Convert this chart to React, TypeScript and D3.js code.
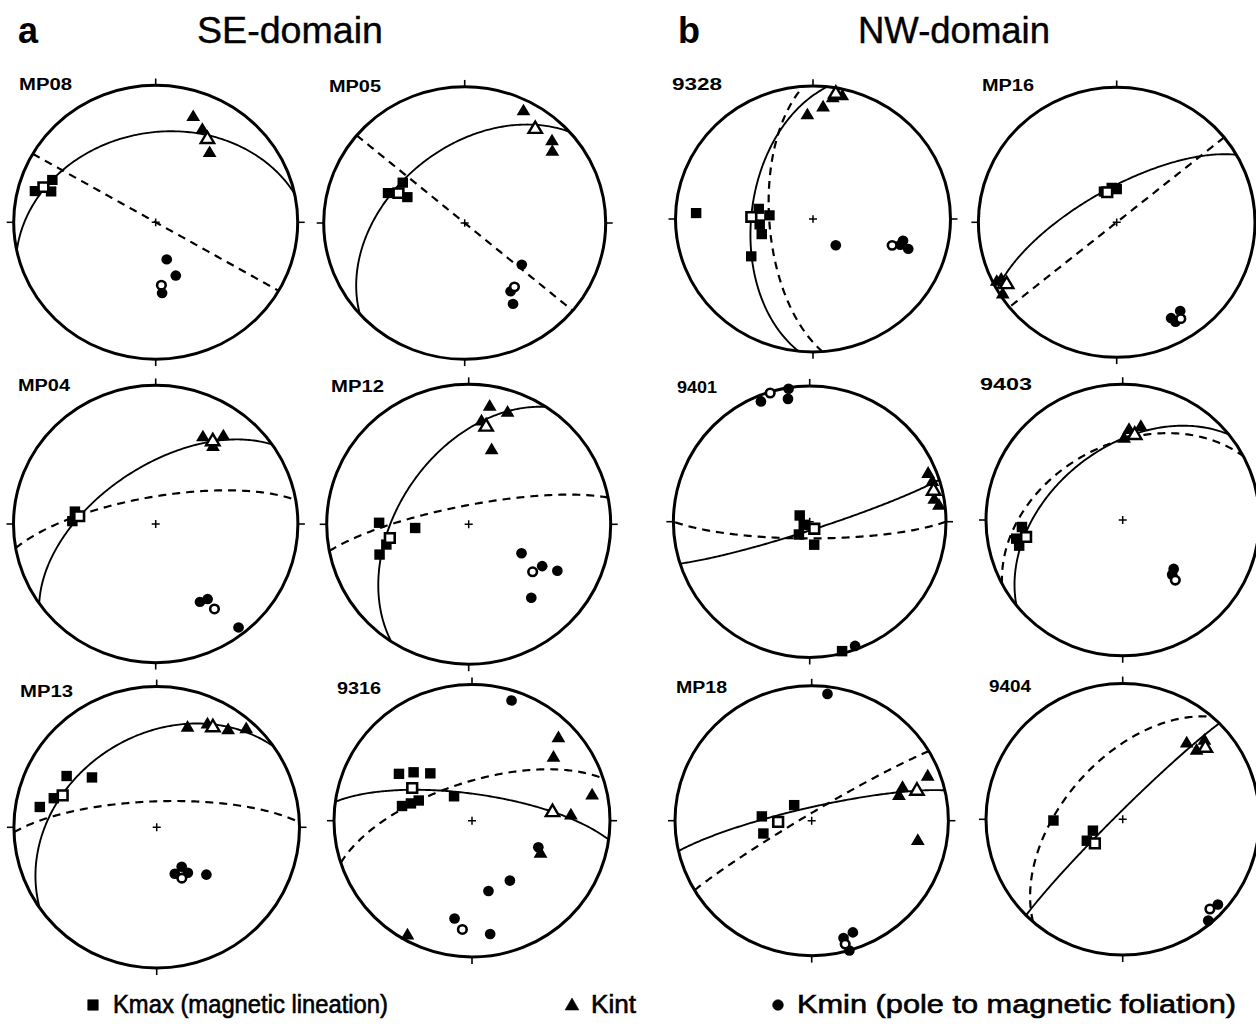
import { useMemo } from "react";
import * as d3 from "d3";

// lines are [trend, plunge], planes are [dip direction, dip], all in degrees,
// lower-hemisphere equal-area projection
type Line = [number, number];
type Plane = [number, number];

// ---- SE-domain ----
const MP08_KMAX: Line[] = [[285, 13], [293, 22], [287, 24]];
const MP08_KINT: Line[] = [[19, 20], [26, 26], [37, 37]];
const MP08_KMIN: Line[] = [[164, 67], [160, 56], [175, 47]];
const MP08_MEAN: Line[] = [[288, 18], [31, 30], [175, 52]]; // mean kmax, kint, kmin
const MP08_PLANES: Plane[] = [[348, 35], [30, 90]]; // solid, dashed

const MP05_KMAX: Line[] = [[292, 41], [304, 46], [295, 53]];
const MP05_KINT: Line[] = [[27, 9], [46, 15], [50, 20]];
const MP05_KMIN: Line[] = [[127, 48], [147, 40], [150, 32]];
const MP05_MEAN: Line[] = [[295, 47], [36, 16], [143, 41]];
const MP05_PLANES: Plane[] = [[318, 46], [40, 90]];

const MP04_KMAX: Line[] = [[279, 42], [272, 41]];
const MP04_KINT: Line[] = [[28, 30], [37, 22], [36, 32]];
const MP04_KMIN: Line[] = [[151, 36], [146, 35], [142, 6]];
const MP04_MEAN: Line[] = [[276, 45], [34, 29], [146, 27]];
const MP04_PLANES: Plane[] = [[325, 57], [350, 74]];

const MP12_KMAX: Line[] = [[271, 37], [266, 59], [251, 34], [256, 40]];
const MP12_KINT: Line[] = [[10, 16], [7, 27], [19, 17], [17, 44]];
const MP12_KMIN: Line[] = [[119, 55], [120, 40], [118, 30], [140, 32]];
const MP12_MEAN: Line[] = [[260, 43], [10, 30], [127, 43]];
const MP12_PLANES: Plane[] = [[303, 49], [349, 79]];

const MP13_KMAX: Line[] = [[280, 18], [300, 28], [308, 42], [286, 26]];
const MP13_KINT: Line[] = [[17, 27], [26, 20], [36, 16], [42, 7]];
const MP13_KMIN: Line[] = [[148, 63], [159, 61], [146, 58], [134, 50]];
const MP13_MEAN: Line[] = [[289, 31], [29, 20], [154, 57]];
const MP13_PLANES: Plane[] = [[325, 36], [358, 75]];

const S9316_KMAX: Line[] = [[303, 37], [310, 44], [319, 52], [324, 72], [282, 47], [286, 52], [291, 56]];
const S9316_KINT: Line[] = [[46, 14], [52, 26], [78, 12], [87, 29], [116, 44], [209, 4]];
const S9316_KMIN: Line[] = [[18, 8], [112, 47], [148, 47], [167, 46], [190, 28], [171, 17]];
const S9316_MEAN: Line[] = [[299, 49], [84, 41], [185, 21]];
const S9316_PLANES: Plane[] = [[8, 74], [342, 67]];

// ---- NW-domain ----
const S9328_KMAX: Line[] = [[273, 16], [281, 57], [275, 64], [264, 58], [253, 58], [238, 46]];
const S9328_KINT: Line[] = [[357, 23], [5, 17], [13, 6], [9, 9]];
const S9328_KMIN: Line[] = [[140, 69], [107, 34], [108, 28], [104, 33]];
const S9328_MEAN: Line[] = [[272, 53], [10, 5], [109, 39]];
const S9328_PLANES: Plane[] = [[276, 53], [266, 64]];

const MP16_KMAX: Line[] = [[338, 70], [0, 70], [352, 69]];
const MP16_KINT: Line[] = [[243, 3], [243, 7], [237, 2]];
const MP16_KMIN: Line[] = [[151, 20], [145, 21], [150, 16]];
const MP16_MEAN: Line[] = [[343, 71], [240, 9], [147, 16]];
const MP16_PLANES: Plane[] = [[330, 70], [141, 90]];

const S9401_KMAX: Line[] = [[302, 83], [242, 86], [220, 80], [169, 76], [166, 2]];
const S9401_KINT: Line[] = [[68, 7], [72, 6], [80, 8], [83, 5]];
const S9401_KMIN: Line[] = [[338, 5], [350, 9], [351, 1], [160, 3]];
const S9401_MEAN: Line[] = [[147, 85], [76, 7], [343, 1]];
const S9401_PLANES: Plane[] = [[162, 85], [180, 80]];

const S9403_KMAX: Line[] = [[256, 23], [266, 27], [260, 22]];
const S9403_KINT: Line[] = [[4, 34], [11, 31], [1, 40]];
const S9403_KMIN: Line[] = [[134, 47], [138, 45]];
const S9403_MEAN: Line[] = [[260, 29], [8, 37], [139, 41]];
const S9403_PLANES: Plane[] = [[321, 47], [332, 44]];

const MP18_KMAX: Line[] = [[275, 60], [255, 60], [312, 76]];
const MP18_KINT: Line[] = [[70, 30], [74, 34], [69, 10], [101, 22]];
const MP18_KMIN: Line[] = [[7, 6], [165, 11], [160, 13], [164, 0]];
const MP18_MEAN: Line[] = [[268, 70], [74, 21], [165, 6]];
const MP18_PLANES: Plane[] = [[347, 82], [329, 86]];

const S9404_KMAX: Line[] = [[269, 48], [249, 71], [239, 65]];
const S9404_KINT: Line[] = [[40, 28], [46, 18], [47, 27]];
const S9404_KMIN: Line[] = [[132, 7], [140, 3]];
const S9404_MEAN: Line[] = [[229, 68], [49, 21], [136, 9]];
const S9404_PLANES: Plane[] = [[315, 86], [311, 55]];

const PANEL_TAGS = ["a", "b"];
const DOMAINS = ["SE-domain", "NW-domain"];
const LEGEND_LABELS = ["Kmax (magnetic lineation)", "Kint", "Kmin (pole to magnetic foliation)"];

const NETS = [
  { label: "MP08", kmax: MP08_KMAX, kint: MP08_KINT, kmin: MP08_KMIN, mean: MP08_MEAN, planes: MP08_PLANES },
  { label: "MP05", kmax: MP05_KMAX, kint: MP05_KINT, kmin: MP05_KMIN, mean: MP05_MEAN, planes: MP05_PLANES },
  { label: "9328", kmax: S9328_KMAX, kint: S9328_KINT, kmin: S9328_KMIN, mean: S9328_MEAN, planes: S9328_PLANES },
  { label: "MP16", kmax: MP16_KMAX, kint: MP16_KINT, kmin: MP16_KMIN, mean: MP16_MEAN, planes: MP16_PLANES },
  { label: "MP04", kmax: MP04_KMAX, kint: MP04_KINT, kmin: MP04_KMIN, mean: MP04_MEAN, planes: MP04_PLANES },
  { label: "MP12", kmax: MP12_KMAX, kint: MP12_KINT, kmin: MP12_KMIN, mean: MP12_MEAN, planes: MP12_PLANES },
  { label: "9401", kmax: S9401_KMAX, kint: S9401_KINT, kmin: S9401_KMIN, mean: S9401_MEAN, planes: S9401_PLANES },
  { label: "9403", kmax: S9403_KMAX, kint: S9403_KINT, kmin: S9403_KMIN, mean: S9403_MEAN, planes: S9403_PLANES },
  { label: "MP13", kmax: MP13_KMAX, kint: MP13_KINT, kmin: MP13_KMIN, mean: MP13_MEAN, planes: MP13_PLANES },
  { label: "9316", kmax: S9316_KMAX, kint: S9316_KINT, kmin: S9316_KMIN, mean: S9316_MEAN, planes: S9316_PLANES },
  { label: "MP18", kmax: MP18_KMAX, kint: MP18_KINT, kmin: MP18_KMIN, mean: MP18_MEAN, planes: MP18_PLANES },
  { label: "9404", kmax: S9404_KMAX, kint: S9404_KINT, kmin: S9404_KMIN, mean: S9404_MEAN, planes: S9404_PLANES },
];

// where each net sits on the page (the scan is a little squashed vertically)
const LAYOUT = [
  { cx: 155.7, cy: 222.3, rx: 142, ry: 137, lx: 19, ly: 90, lw: 53 },
  { cx: 464.7, cy: 223, rx: 141, ry: 136.3, lx: 329, ly: 92, lw: 52 },
  { cx: 813, cy: 219, rx: 137.5, ry: 133, lx: 672, ly: 90, lw: 50 },
  { cx: 1116.7, cy: 222.3, rx: 138.3, ry: 135, lx: 982, ly: 91, lw: 52 },
  { cx: 155.7, cy: 524, rx: 142.2, ry: 138.7, lx: 18, ly: 391, lw: 52 },
  { cx: 468.7, cy: 524.3, rx: 142, ry: 140, lx: 331, ly: 392, lw: 53 },
  { cx: 809.7, cy: 521.7, rx: 136.3, ry: 135.8, lx: 677, ly: 393, lw: 40 },
  { cx: 1122.7, cy: 520, rx: 136.7, ry: 135.8, lx: 980, ly: 390, lw: 52 },
  { cx: 156.7, cy: 827.3, rx: 142.8, ry: 140.8, lx: 20, ly: 697, lw: 53 },
  { cx: 472, cy: 820.7, rx: 138, ry: 136.3, lx: 337, ly: 694, lw: 44 },
  { cx: 811.7, cy: 820.7, rx: 136.7, ry: 135, lx: 676, ly: 693, lw: 51 },
  { cx: 1122.7, cy: 819.3, rx: 136.7, ry: 135.8, lx: 989, ly: 692, lw: 42 },
];

const FONT = "'Liberation Sans', Arial, Helvetica, sans-serif";

const squareFilled = d3.symbol().type(d3.symbolSquare).size(110)() ?? "";
const squareOpen = d3.symbol().type(d3.symbolSquare).size(95)() ?? "";
const triFilled = d3.symbol().type(d3.symbolTriangle).size(82)() ?? "";
const triOpen = d3.symbol().type(d3.symbolTriangle).size(78)() ?? "";
const dotFilled = d3.symbol().type(d3.symbolCircle).size(90)() ?? "";
const dotOpen = d3.symbol().type(d3.symbolCircle).size(58)() ?? "";

function Stereonet({ net, lay }: { net: (typeof NETS)[number]; lay: (typeof LAYOUT)[number] }) {
  const { rx, ry } = lay;
  const { project, solid, dashed } = useMemo(() => {
    const proj = d3
      .geoAzimuthalEqualArea()
      .rotate([0, -90])
      .scale(rx / Math.SQRT2)
      .translate([0, 0])
      .clipAngle(90)
      .precision(0.1);
    const path = d3.geoPath(proj);
    const project = ([t, p]: Line) => proj([180 - t, p]) ?? [0, 0];
    const gc = ([dd, dip]: Plane) => {
      const ring = d3.geoCircle().center([-dd, 90 - dip]).radius(90).precision(1)().coordinates[0];
      return path({ type: "LineString", coordinates: ring } as any) ?? "";
    };
    return { project, solid: gc(net.planes[0]), dashed: gc(net.planes[1]) };
  }, [net, rx]);

  const at = (l: Line) => {
    const [x, y] = project(l);
    return `translate(${x},${y})`;
  };

  return (
    <g>
      <text x={lay.lx} y={lay.ly} fontFamily={FONT} fontWeight="bold" fontSize={16}
        textLength={lay.lw} lengthAdjust="spacingAndGlyphs">{net.label}</text>
      <g transform={`translate(${lay.cx},${lay.cy}) scale(1,${ry / rx})`}>
        <circle r={rx} fill="none" stroke="#000" strokeWidth={3} />
        {[0, 90, 180, 270].map((a) => {
          const s = Math.sin((a * Math.PI) / 180);
          const c = -Math.cos((a * Math.PI) / 180);
          return (
            <line key={a} x1={s * (rx - 1)} y1={c * (rx - 1)} x2={s * (rx + 7)} y2={c * (rx + 7)}
              stroke="#000" strokeWidth={1.6} />
          );
        })}
        <path d="M-4,0H4M0,-4V4" stroke="#000" strokeWidth={1.5} />
        <path d={solid} fill="none" stroke="#000" strokeWidth={1.9} />
        <path d={dashed} fill="none" stroke="#000" strokeWidth={2.2} strokeDasharray="8,6" />
        {net.kmax.map((l, i) => <path key={`a${i}`} d={squareFilled} transform={at(l)} fill="#000" />)}
        {net.kint.map((l, i) => <path key={`b${i}`} d={triFilled} transform={at(l)} fill="#000" />)}
        {net.kmin.map((l, i) => <path key={`c${i}`} d={dotFilled} transform={at(l)} fill="#000" />)}
        <path d={squareOpen} transform={at(net.mean[0])} fill="#fff" stroke="#000" strokeWidth={2.6} />
        <path d={triOpen} transform={at(net.mean[1])} fill="#fff" stroke="#000" strokeWidth={2.4} />
        <path d={dotOpen} transform={at(net.mean[2])} fill="#fff" stroke="#000" strokeWidth={2.6} />
      </g>
    </g>
  );
}

export default function App() {
  return (
    <svg width={1256} height={1026} viewBox="0 0 1256 1026"
      style={{ position: "absolute", left: 0, top: 0, display: "block" }}>
      <rect width={1256} height={1026} fill="#fff" />
      <text x={18} y={43} fontFamily={FONT} fontWeight="bold" fontSize={36}>{PANEL_TAGS[0]}</text>
      <text x={197} y={43} fontFamily={FONT} fontSize={36} stroke="#000" strokeWidth={0.4}
        textLength={186} lengthAdjust="spacingAndGlyphs">{DOMAINS[0]}</text>
      <text x={678} y={43} fontFamily={FONT} fontWeight="bold" fontSize={36}>{PANEL_TAGS[1]}</text>
      <text x={858} y={43} fontFamily={FONT} fontSize={36} stroke="#000" strokeWidth={0.4}
        textLength={192} lengthAdjust="spacingAndGlyphs">{DOMAINS[1]}</text>

      {NETS.map((net, i) => <Stereonet key={net.label} net={net} lay={LAYOUT[i]} />)}

      <g fontFamily={FONT} fontSize={25} stroke="#000" strokeWidth={0.6}>
        <path d={squareFilled} transform="translate(93,1005)" fill="#000" />
        <text x={113} y={1013} textLength={275} lengthAdjust="spacingAndGlyphs">{LEGEND_LABELS[0]}</text>
        <path d={triFilled} transform="translate(572,1006)" fill="#000" />
        <text x={591} y={1013} textLength={45} lengthAdjust="spacingAndGlyphs">{LEGEND_LABELS[1]}</text>
        <path d={dotFilled} transform="translate(778,1005)" fill="#000" />
        <text x={797} y={1013} textLength={439} lengthAdjust="spacingAndGlyphs">{LEGEND_LABELS[2]}</text>
      </g>
    </svg>
  );
}
